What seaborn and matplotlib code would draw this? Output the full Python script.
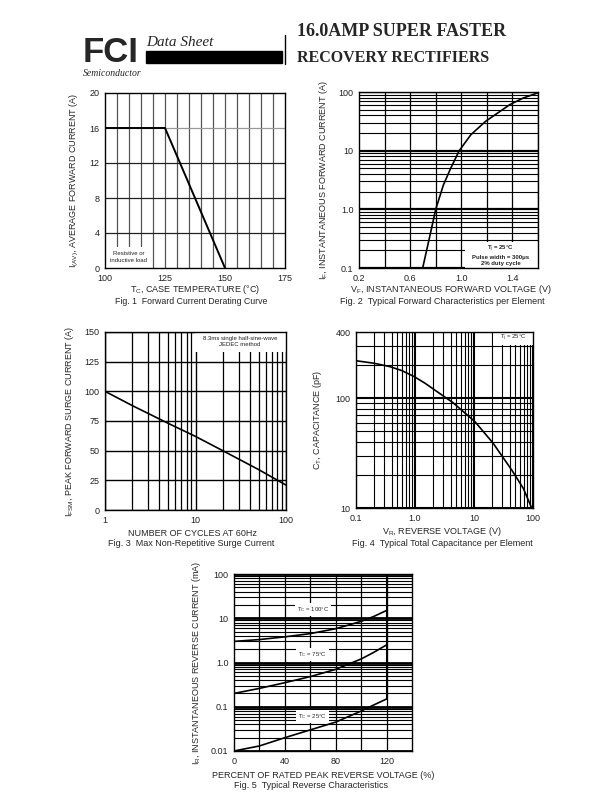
import numpy as np
import pandas as pd
import matplotlib
matplotlib.use("Agg")
import matplotlib.pyplot as plt
from matplotlib.patches import Rectangle
from matplotlib.lines import Line2D
from matplotlib.ticker import FixedLocator, NullFormatter, LogLocator
import seaborn as sns

# ---- data ----
# Fig 1 derating
tc_temp = [100, 125, 150]
tc_current = [16, 16, 0]

# Fig 2 forward characteristics
vf_volts = [0.698, 0.75, 0.80, 0.86, 0.917, 0.984, 1.075, 1.19, 1.38, 1.485, 1.60]
if_amps = [0.1, 0.32, 1.0, 2.6, 5.0, 10, 18.7, 31.6, 61, 79, 97]

# Fig 3 surge current
surge_cycles = [1, 2, 5, 10, 20, 50, 100]
surge_amps = [100, 88, 73, 62, 50, 34, 21]

# Fig 4 capacitance
vr_volts = [0.1, 0.2, 0.37, 0.6, 0.97, 1.5, 2.4, 4.4, 10.4, 21, 43.5, 68.5, 95]
cap_pf = [219, 208, 194, 178, 157, 136, 114, 91, 61, 39, 22.2, 15.1, 10]

# Fig 5 reverse characteristics
pct_rated = [0, 20, 40, 60, 80, 100, 110, 120]
ir_100c = [3.0, 3.3, 3.8, 4.5, 5.8, 8.5, 11, 15]
ir_75c = [0.2, 0.26, 0.35, 0.48, 0.7, 1.2, 1.7, 2.5]
ir_25c = [0.01, 0.013, 0.02, 0.03, 0.045, 0.08, 0.11, 0.15]

sns.set_style("white")
plt.rcParams['font.family'] = ['Liberation Sans', 'DejaVu Sans']
plt.rcParams['mathtext.fontset'] = 'custom'
plt.rcParams['mathtext.rm'] = 'Liberation Sans'
plt.rcParams['mathtext.it'] = 'Liberation Sans'

W, H = 612, 792
fig = plt.figure(figsize=(6.12, 7.92), dpi=100)


def box(left, top, right, bottom):
    return [left / W, 1 - bottom / H, (right - left) / W, (bottom - top) / H]


def style(ax, fs=6.5):
    for s in ax.spines.values():
        s.set_color('black')
        s.set_linewidth(1.0)
    ax.tick_params(which='both', length=0, labelsize=fs, pad=4, colors='#222222')
    ax.set_xlabel('')


def fig_text(x, y, s, **kw):
    fig.text(x / W, 1 - y / H, s, **kw)


def note(ax, x0, y0, x1, y1, tx, ty, s, **kw):
    # white panel hiding the grid behind a note, in axes fractions
    ax.add_patch(Rectangle((x0, y0), x1 - x0, y1 - y0, transform=ax.transAxes,
                           facecolor='white', edgecolor='none', zorder=2))
    ax.text(tx, ty, s, transform=ax.transAxes, fontsize=4.3, ha='center', va='center',
            linespacing=1.3, color='#222222', zorder=4, **kw)


# ---- header ----
fig_text(83, 53, "FCI", fontsize=25, fontweight='heavy', family='Liberation Sans',
         va='center', ha='left')
fig_text(83, 73, "Semiconductor", fontsize=7, style='italic', family='Liberation Serif',
         va='center', ha='left')
fig_text(146, 43, "Data Sheet", fontsize=11, style='italic', family='Liberation Serif',
         va='center', ha='left')
fig.patches.append(Rectangle((146 / W, 1 - 63 / H), (282 - 146) / W, 12 / H,
                             transform=fig.transFigure, color='black'))
fig.lines.append(Line2D([285 / W, 285 / W], [1 - 35 / H, 1 - 64 / H],
                        transform=fig.transFigure, color='black', lw=1))
fig_text(297, 32, "16.0AMP SUPER FASTER", fontsize=13, fontweight='bold',
         family='Liberation Serif', va='center', ha='left')
fig_text(297, 58, "RECOVERY RECTIFIERS", fontsize=11.5, fontweight='bold',
         family='Liberation Serif', va='center', ha='left')

white = dict(facecolor='white', edgecolor='none', pad=1.5)

# ---- Fig 1 ----
ax1 = fig.add_axes(box(105, 93, 285, 268))
ax1.set_xlim(100, 175)
ax1.set_ylim(0, 20)
ax1.set_xticks([100, 125, 150, 175])
ax1.set_yticks([0, 4, 8, 12, 16, 20])
for xv in np.arange(105, 175, 5):
    ax1.axvline(xv, color='#555555', lw=0.9, zorder=1)
for yv in [4, 8, 12]:
    ax1.axhline(yv, color='#222222', lw=0.9, zorder=1)
ax1.axhline(16, color='#999999', lw=0.9, zorder=1)
sns.lineplot(x=tc_temp, y=tc_current, ax=ax1, color='black', lw=1.4, zorder=3)
note(ax1, 0.011, 0.0, 0.26, 0.12, 0.133, 0.063, "Resistive or\ninductive load")
style(ax1)
fig_text(195, 290, "T$_C$, CASE TEMPERATURE (°C)", fontsize=6.5, ha='center', va='center')
ax1.set_ylabel("I$_{(AV)}$, AVERAGE FORWARD CURRENT (A)", fontsize=6.5, labelpad=6)
fig_text(191, 302, "Fig. 1  Forward Current Derating Curve", fontsize=6.3, ha='center', va='center')

# ---- Fig 2 ----
ax2 = fig.add_axes(box(359, 92, 538, 268))
ax2.set_yscale('log')
ax2.set_xlim(0.2, 1.6)
ax2.set_ylim(0.1, 100)
ax2.set_xticks([0.2, 0.6, 1.0, 1.4])
ax2.set_xticklabels(["0.2", "0.6", "1.0", "1.4"])
ax2.yaxis.set_major_locator(FixedLocator([0.1, 1, 10, 100]))
ax2.set_yticklabels(["0.1", "1.0", "10", "100"])
ax2.yaxis.set_minor_locator(LogLocator(base=10, subs=np.arange(2, 10)))
ax2.yaxis.set_minor_formatter(NullFormatter())
for xv in np.arange(0.4, 1.6, 0.2):
    ax2.axvline(xv, color='black', lw=0.9, zorder=1)
ax2.grid(True, which='major', axis='y', color='black', lw=1.6)
ax2.grid(True, which='minor', axis='y', color='black', lw=0.8)
sns.lineplot(x=vf_volts, y=if_amps, ax=ax2, color='black', lw=1.2, zorder=3)
note(ax2, 0.59, 0.0, 1.0, 0.148, 0.79, 0.075,
     "T$_j$ = 25°C\nPulse width = 300μs\n2% duty cycle", fontweight='bold')
style(ax2)
fig_text(451, 290, "V$_F$, INSTANTANEOUS FORWARD VOLTAGE (V)", fontsize=6.5, ha='center', va='center')
ax2.set_ylabel("I$_F$, INSTANTANEOUS FORWARD CURRENT (A)", fontsize=6.5, labelpad=6)
fig_text(442, 302, "Fig. 2  Typical Forward Characteristics per Element", fontsize=6.5,
         ha='center', va='center')

# ---- Fig 3 ----
ax3 = fig.add_axes(box(105, 332, 286, 510))
ax3.set_xscale('log')
ax3.set_xlim(1, 100)
ax3.set_ylim(0, 150)
ax3.xaxis.set_major_locator(FixedLocator([1, 10, 100]))
ax3.set_xticklabels(["1", "10", "100"])
ax3.xaxis.set_minor_locator(LogLocator(base=10, subs=np.arange(2, 10)))
ax3.xaxis.set_minor_formatter(NullFormatter())
ax3.set_yticks([0, 25, 50, 75, 100, 125, 150])
ax3.grid(True, which='major', color='black', lw=1.0)
ax3.grid(True, which='minor', axis='x', color='black', lw=0.9)
sns.lineplot(x=surge_cycles, y=surge_amps, ax=ax3, color='black', lw=1.2, zorder=3)
note(ax3, 0.497, 0.888, 1.0, 1.0, 0.746, 0.948, "8.3ms single half-sine-wave\nJEDEC method")
style(ax3)
fig_text(192, 533, "NUMBER OF CYCLES AT 60Hz", fontsize=6.5, ha='center', va='center')
ax3.set_ylabel("I$_{FSM}$, PEAK FORWARD SURGE CURRENT (A)", fontsize=6.5, labelpad=6)
fig_text(191, 543, "Fig. 3  Max Non-Repetitive Surge Current", fontsize=6.5,
         ha='center', va='center')

# ---- Fig 4 ----
ax4 = fig.add_axes(box(356, 332, 533, 508))
ax4.set_xscale('log')
ax4.set_yscale('log')
ax4.set_xlim(0.1, 100)
ax4.set_ylim(10, 400)
ax4.xaxis.set_major_locator(FixedLocator([0.1, 1, 10, 100]))
ax4.set_xticklabels(["0.1", "1.0", "10", "100"])
ax4.xaxis.set_minor_locator(LogLocator(base=10, subs=np.arange(2, 10)))
ax4.xaxis.set_minor_formatter(NullFormatter())
ax4.yaxis.set_major_locator(FixedLocator([10, 100, 400]))
ax4.set_yticklabels(["10", "100", "400"])
ax4.yaxis.set_minor_locator(LogLocator(base=10, subs=np.arange(2, 10)))
ax4.yaxis.set_minor_formatter(NullFormatter())
ax4.grid(True, which='major', color='black', lw=1.5)
ax4.grid(True, which='minor', color='black', lw=0.8)
sns.lineplot(x=vr_volts, y=cap_pf, ax=ax4, color='black', lw=1.2, zorder=3)
note(ax4, 0.774, 0.926, 1.0, 1.0, 0.887, 0.965, "T$_j$ = 25°C")
style(ax4)
fig_text(442, 531, "V$_R$, REVERSE VOLTAGE (V)", fontsize=6.5, ha='center', va='center')
ax4.set_ylabel("C$_T$, CAPACITANCE (pF)", fontsize=6.5, labelpad=8)
fig_text(442, 543, "Fig. 4  Typical Total Capacitance per Element", fontsize=6.5,
         ha='center', va='center')

# ---- Fig 5 ----
ax5 = fig.add_axes(box(234, 574, 412, 751))
ax5.set_yscale('log')
ax5.set_xlim(0, 140)
ax5.set_ylim(0.01, 100)
ax5.set_xticks([0, 40, 80, 120])
ax5.yaxis.set_major_locator(FixedLocator([0.01, 0.1, 1, 10, 100]))
ax5.set_yticklabels(["0.01", "0.1", "1.0", "10", "100"])
ax5.yaxis.set_minor_locator(LogLocator(base=10, subs=np.arange(2, 10)))
ax5.yaxis.set_minor_formatter(NullFormatter())
for xv in np.arange(20, 140, 20):
    ax5.axvline(xv, color='black', lw=0.9, zorder=1)
ax5.grid(True, which='major', axis='y', color='black', lw=2.0)
ax5.grid(True, which='minor', axis='y', color='black', lw=0.8)
curves = pd.DataFrame({
    'pct': pct_rated * 3,
    'ir': ir_100c + ir_75c + ir_25c,
    'tc': ['100'] * len(pct_rated) + ['75'] * len(pct_rated) + ['25'] * len(pct_rated),
})
sns.lineplot(data=curves, x='pct', y='ir', hue='tc', units='tc', estimator=None,
             palette=['black'] * 3, lw=1.2, legend=False, ax=ax5, zorder=3)
ax5.plot([pct_rated[-1], pct_rated[-1]], [ir_25c[-1], 100], color='black', lw=1.5, zorder=3)
for lab, yv in [("T$_C$ = 100°C", 16), ("T$_C$ = 75°C", 1.55), ("T$_C$ = 25°C", 0.059)]:
    ax5.text(62, yv, lab, fontsize=4.3, ha='center', va='center', bbox=white, zorder=4)
style(ax5)
fig_text(323, 775, "PERCENT OF RATED PEAK REVERSE VOLTAGE (%)", fontsize=6.5,
         ha='center', va='center')
ax5.set_ylabel("I$_R$, INSTANTANEOUS REVERSE CURRENT (mA)", fontsize=6.5, labelpad=6)
fig_text(311, 785, "Fig. 5  Typical Reverse Characteristics", fontsize=6.5,
         ha='center', va='center')

fig.savefig("out.png", dpi=100)
